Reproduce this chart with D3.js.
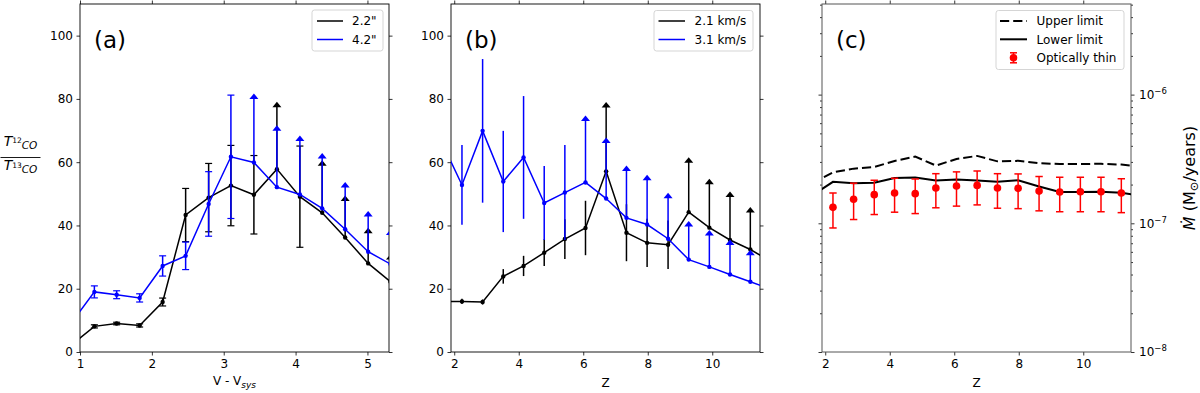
<!DOCTYPE html>
<html><head><meta charset="utf-8">
<script src="https://cdn.jsdelivr.net/npm/d3@7"></script>
<style>body{margin:0;background:#fff} svg{display:block} text{font-family:"DejaVu Sans",sans-serif;fill:#000}</style>
</head><body><svg id="c" width="1200" height="393"></svg>
<script>
// ---------- data ----------
// Panel (a): ratio vs V - Vsys
const vSys    = [0.88,1.20,1.51,1.83,2.15,2.47,2.79,3.10,3.42,3.74,4.06,4.37,4.69,5.01,5.32];
const ratio22 = [2.2,8.1,9.0,8.4,15.8,43.3,48.8,52.6,49.7,57.8,49.1,44.0,36.2,28.0,22.2];
const err22   = [0,0.5,0.4,0.5,1.25,8.4,10.8,12.7,12.4,19.6,16.0,14.9,11.5,9.5,7.0];
const lim22   = [0,0,0,0,0,0,0,0,0,1,0,1,1,1,1];
const ratio42 = [9.2,19.0,18.1,17.1,27.2,30.4,46.8,61.7,59.9,52.1,49.8,45.4,38.8,31.7,27.8];
const err42   = [0,1.9,1.25,1.3,3.2,4.35,10.2,19.5,20.1,17.8,16.9,15.8,13.2,11.1,9.2];
const lim42   = [0,0,0,0,0,0,0,0,1,1,1,1,1,1,1];

// Panel (b): ratio vs z
const zPos    = [1.60,2.24,2.88,3.52,4.15,4.79,5.43,6.07,6.71,7.34,7.98,8.63,9.27,9.91,10.55,11.18,11.82];
const ratio21 = [16.0,16.0,15.8,23.9,27.2,31.4,35.7,39.2,57.1,37.7,34.5,33.9,44.2,39.3,35.4,32.4,28.6];
const err21   = [0,0.8,0.8,2.3,3.2,4.2,6.3,8.6,20.2,9.0,7.6,7.7,15.6,13.7,13.6,11.7,0];
const lim21   = [0,0,0,0,0,0,0,0,1,0,0,0,1,1,1,1,0];
const ratio31 = [66.6,52.8,69.9,53.9,61.5,47.1,50.4,53.6,48.5,42.4,40.3,35.8,29.2,26.9,24.5,22.2,19.9];
const err31   = [0,12.6,22.7,16.0,19.4,11.7,15.0,19.4,17.6,14.8,14.0,12.8,10.5,9.9,9.3,8.4,0];
const lim31   = [0,0,0,0,0,0,0,1,1,1,1,1,1,1,1,1,0];

// Panel (c): mass-loss rate vs z (units of 1e-7 Msun/yr)
const upperLim = [2.04,2.49,2.66,2.74,3.05,3.30,2.81,3.16,3.34,3.03,3.06,2.93,2.89,2.89,2.90,2.86,2.74];
const lowerLim = [1.65,2.10,2.05,2.07,2.25,2.27,2.15,2.19,2.15,2.10,2.16,1.93,1.75,1.75,1.76,1.73,1.63];
const zThin    = [2.24,2.88,3.52,4.15,4.79,5.43,6.07,6.71,7.34,7.98,8.63,9.27,9.91,10.55,11.18];
const thinVal  = [1.33,1.54,1.67,1.72,1.70,1.88,1.95,1.97,1.88,1.87,1.78,1.75,1.76,1.76,1.72];
const thinHi   = [1.72,2.05,2.16,2.24,2.21,2.43,2.51,2.55,2.43,2.42,2.31,2.28,2.28,2.28,2.22];
const thinLo   = [0.92,1.07,1.17,1.22,1.19,1.32,1.36,1.39,1.31,1.30,1.25,1.23,1.23,1.23,1.21];

// ticks
const vTicks = [1,2,3,4,5];
const ratioTicks = [0,20,40,60,80,100];
const zTicks = [2,4,6,8,10];
const mdotTicks = [1e-8,1e-7,1e-6];
const mdotExp = ["\u22128","\u22127","\u22126"];

// legends
const legA = ['2.2"','4.2"'];
const legB = ['2.1 km/s','3.1 km/s'];
const legC = ['Upper limit','Lower limit','Optically thin'];

// ---------- layout ----------
const svg = d3.select('#c');
const TOP = 4, BOT = 352;
const FS = 12;
const DASH = '9.2,4';
const xA = d3.scaleLinear([1,5.30],[80,389]);
const yR = d3.scaleLinear([0,110],[BOT,TOP]);
const xB = d3.scaleLinear([1.9,11.48],[451,760]);
const xC = d3.scaleLinear([1.9,11.48],[822,1131]);
const yC = d3.scaleLog([1e-8,5.06e-6],[BOT,TOP]);

const defs = svg.append('defs');
function clip(id, x){
  defs.append('clipPath').attr('id',id).append('rect')
    .attr('x',x.range()[0]).attr('y',TOP).attr('width',x.range()[1]-x.range()[0]).attr('height',BOT-TOP);
}
clip('ca',xA); clip('cb',xB); clip('cc',xC);

function styleAxis(g, color){
  g.select('.domain').remove();
  g.selectAll('.tick line').attr('stroke',color).attr('stroke-width',0.8);
  g.selectAll('.tick text').attr('font-size',FS).attr('font-family','DejaVu Sans').attr('fill','#000');
}

function frame(x, y, xt, yt, opts){
  const col = opts.spine || '#000';
  const L = x.range()[0], R = x.range()[1];
  const gb = svg.append('g').attr('transform',`translate(0,${BOT})`)
    .call(d3.axisBottom(x).tickValues(xt).tickSize(3.5).tickPadding(3.5).tickFormat(d3.format('d')));
  styleAxis(gb,'#000');
  const gt = svg.append('g').attr('transform',`translate(0,${TOP})`)
    .call(d3.axisTop(x).tickValues(xt).tickSize(3.5).tickFormat(''));
  styleAxis(gt,'#000');
  if (yt){
    const gl = svg.append('g').attr('transform',`translate(${L},0)`)
      .call(d3.axisLeft(y).tickValues(yt).tickSize(3.5).tickPadding(3.5).tickFormat(d3.format('d')));
    styleAxis(gl,'#000');
    const gr = svg.append('g').attr('transform',`translate(${R},0)`)
      .call(d3.axisRight(y).tickValues(yt).tickSize(3.5).tickFormat(''));
    styleAxis(gr,'#000');
  }
  svg.append('rect').attr('x',L).attr('y',TOP).attr('width',R-L).attr('height',BOT-TOP)
    .attr('fill','none').attr('stroke',col).attr('stroke-width',0.9);
}

function series(gid, x, y, xs, ys, errs, lims, color, caps){
  const g = svg.append('g').attr('clip-path',`url(#${gid})`);
  g.append('path').datum(d3.range(xs.length))
    .attr('d', d3.line().x(i=>x(xs[i])).y(i=>y(ys[i])))
    .attr('fill','none').attr('stroke',color).attr('stroke-width',1.5);
  xs.forEach((xv,i)=>{
    const px = x(xv);
    if (errs[i] > 0){
      if (lims[i]){
        const top = y(ys[i]+errs[i]);
        g.append('line').attr('x1',px).attr('x2',px).attr('y1',y(ys[i])).attr('y2',top-3)
          .attr('stroke',color).attr('stroke-width',1.5);
        g.append('path').attr('d',`M${px-4.5},${top}L${px+4.5},${top}L${px},${top-5.5}Z`).attr('fill',color);
      } else {
        const t = y(ys[i]+errs[i]), b = y(ys[i]-errs[i]);
        g.append('line').attr('x1',px).attr('x2',px).attr('y1',b).attr('y2',t)
          .attr('stroke',color).attr('stroke-width',1.5);
        if (caps){
          [t,b].forEach(yy=>g.append('line').attr('x1',px-3.5).attr('x2',px+3.5).attr('y1',yy).attr('y2',yy)
            .attr('stroke',color).attr('stroke-width',1.2));
        }
      }
    }
    g.append('circle').attr('cx',px).attr('cy',y(ys[i])).attr('r',2.2).attr('fill',color);
  });
}

function legendBox(x0,y0,w,h){
  svg.append('rect').attr('x',x0).attr('y',y0).attr('width',w).attr('height',h).attr('rx',2.5)
    .attr('fill','#fff').attr('fill-opacity',0.8).attr('stroke','#d0d0d0').attr('stroke-width',0.9);
}

// ---------- panel (a) ----------
frame(xA, yR, vTicks, ratioTicks, {});
series('ca', xA, yR, vSys, ratio22, err22, lim22, '#000', true);
series('ca', xA, yR, vSys, ratio42, err42, lim42, '#0000ff', true);
svg.append('text').attr('x',94).attr('y',48).attr('font-size',23).text('(a)');
legendBox(312,10,71,41);
[['#000',0],['#0000ff',1]].forEach(([c,i])=>{
  const yy = 21 + i*18.5;
  svg.append('line').attr('x1',317).attr('x2',343).attr('y1',yy).attr('y2',yy).attr('stroke',c).attr('stroke-width',1.5);
  svg.append('text').attr('x',352).attr('y',yy+4.3).attr('font-size',FS).text(legA[i]);
});
{
  const t = svg.append('text').attr('x',234.5).attr('y',385).attr('text-anchor','middle').attr('font-size',FS);
  t.append('tspan').text('V - V');
  t.append('tspan').attr('font-style','italic').attr('font-size',9).attr('dy',2.5).text('sys');
}
function fracPart(yb, num){
  const t = svg.append('text').attr('x',20.5).attr('y',yb).attr('text-anchor','middle');
  t.append('tspan').attr('font-style','italic').attr('font-size',14).text('T');
  t.append('tspan').attr('font-size',7.5).attr('dy',-2.5).text(num);
  t.append('tspan').attr('font-style','italic').attr('font-size',10.5).attr('dy',5.5).text('CO');
}
fracPart(145.7,'12');
fracPart(170.2,'13');
svg.append('line').attr('x1',0.5).attr('x2',40.5).attr('y1',157.5).attr('y2',157.5).attr('stroke','#000').attr('stroke-width',0.9);

// ---------- panel (b) ----------
frame(xB, yR, zTicks, ratioTicks, {});
series('cb', xB, yR, zPos, ratio21, err21, lim21, '#000', false);
series('cb', xB, yR, zPos, ratio31, err31, lim31, '#0000ff', false);
svg.append('text').attr('x',465).attr('y',48).attr('font-size',23).text('(b)');
legendBox(654,10.5,99,40.5);
[['#000',0],['#0000ff',1]].forEach(([c,i])=>{
  const yy = 21 + i*18.5;
  svg.append('line').attr('x1',658.5).attr('x2',685).attr('y1',yy).attr('y2',yy).attr('stroke',c).attr('stroke-width',1.5);
  svg.append('text').attr('x',694.5).attr('y',yy+4.3).attr('font-size',FS).text(legB[i]);
});
svg.append('text').attr('x',605.5).attr('y',387).attr('text-anchor','middle').attr('font-size',FS).text('Z');

// ---------- panel (c) ----------
{
  const L = 822, R = 1131, col = '#555';
  const gb = svg.append('g').attr('transform',`translate(0,${BOT})`)
    .call(d3.axisBottom(xC).tickValues(zTicks).tickSize(3.5).tickPadding(3.5).tickFormat(d3.format('d')));
  styleAxis(gb,'#000');
  const gt = svg.append('g').attr('transform',`translate(0,${TOP})`)
    .call(d3.axisTop(xC).tickValues(zTicks).tickSize(3.5).tickFormat(''));
  styleAxis(gt,'#000');
  const minor = [];
  [1e-8,1e-7,1e-6].forEach(d=>{ for(let k=2;k<=9;k++){ const v=d*k; if (v<=yC.domain()[1]) minor.push(v);} });
  const gl = svg.append('g').attr('transform',`translate(${L},0)`)
    .call(d3.axisLeft(yC).tickValues(mdotTicks).tickSize(3.5).tickFormat(''));
  styleAxis(gl,'#000');
  const glm = svg.append('g').attr('transform',`translate(${L},0)`)
    .call(d3.axisLeft(yC).tickValues(minor).tickSize(2).tickFormat(''));
  styleAxis(glm,'#000');
  const gr = svg.append('g').attr('transform',`translate(${R},0)`)
    .call(d3.axisRight(yC).tickValues(mdotTicks).tickSize(3.5).tickPadding(3.5).tickFormat(''));
  styleAxis(gr,'#000');
  const grm = svg.append('g').attr('transform',`translate(${R},0)`)
    .call(d3.axisRight(yC).tickValues(minor).tickSize(2).tickFormat(''));
  styleAxis(grm,'#000');
  mdotTicks.forEach((v,i)=>{
    const t = svg.append('text').attr('x',R+8).attr('y',yC(v)+4.3).attr('font-size',FS);
    t.append('tspan').text('10');
    t.append('tspan').attr('font-size',8.5).attr('dy',-5).text(mdotExp[i]);
  });
  svg.append('rect').attr('x',L).attr('y',TOP).attr('width',R-L).attr('height',BOT-TOP)
    .attr('fill','none').attr('stroke',col).attr('stroke-width',1);

  const g = svg.append('g').attr('clip-path','url(#cc)');
  g.append('path').datum(d3.range(zPos.length))
    .attr('d', d3.line().x(i=>xC(zPos[i])).y(i=>yC(upperLim[i]*1e-7)))
    .attr('fill','none').attr('stroke','#000').attr('stroke-width',2).attr('stroke-dasharray',DASH);
  g.append('path').datum(d3.range(zPos.length))
    .attr('d', d3.line().x(i=>xC(zPos[i])).y(i=>yC(lowerLim[i]*1e-7)))
    .attr('fill','none').attr('stroke','#000').attr('stroke-width',2);
  zThin.forEach((z,i)=>{
    const px = xC(z), t = yC(thinHi[i]*1e-7), b = yC(thinLo[i]*1e-7);
    g.append('line').attr('x1',px).attr('x2',px).attr('y1',b).attr('y2',t).attr('stroke','#ff0000').attr('stroke-width',1.5);
    [t,b].forEach(yy=>g.append('line').attr('x1',px-3.7).attr('x2',px+3.7).attr('y1',yy).attr('y2',yy)
      .attr('stroke','#ff0000').attr('stroke-width',1.5));
    g.append('circle').attr('cx',px).attr('cy',yC(thinVal[i]*1e-7)).attr('r',3.8).attr('fill','#ff0000');
  });

  svg.append('text').attr('x',836).attr('y',48).attr('font-size',23).text('(c)');
  legendBox(996,10.5,128,59);
  svg.append('line').attr('x1',1000).attr('x2',1027).attr('y1',21).attr('y2',21).attr('stroke','#000').attr('stroke-width',2).attr('stroke-dasharray',DASH);
  svg.append('line').attr('x1',1000).attr('x2',1027).attr('y1',39.3).attr('y2',39.3).attr('stroke','#000').attr('stroke-width',2);
  const mx = 1013.5, my = 57.8;
  svg.append('line').attr('x1',mx).attr('x2',mx).attr('y1',my-5).attr('y2',my+5).attr('stroke','#ff0000').attr('stroke-width',1.5);
  [my-5,my+5].forEach(yy=>svg.append('line').attr('x1',mx-3.5).attr('x2',mx+3.5).attr('y1',yy).attr('y2',yy).attr('stroke','#ff0000').attr('stroke-width',1.5));
  svg.append('circle').attr('cx',mx).attr('cy',my).attr('r',3.8).attr('fill','#ff0000');
  legC.forEach((s,i)=>svg.append('text').attr('x',1036.5).attr('y',21+i*18.4+4.3).attr('font-size',FS).text(s));

  svg.append('text').attr('x',xC(6.69)).attr('y',387).attr('text-anchor','middle').attr('font-size',FS).text('Z');
  const yl = svg.append('text').attr('transform',`translate(1195,${(TOP+BOT)/2}) rotate(-90)`)
    .attr('text-anchor','middle').attr('font-size',16);
  yl.append('tspan').attr('font-style','italic').text('\u1E40');
  yl.append('tspan').text(' (M');
  yl.append('tspan').attr('font-size',11.5).attr('dy',3).text('\u2299');
  yl.append('tspan').attr('dy',-3).text('/years)');
}
</script></body></html>
